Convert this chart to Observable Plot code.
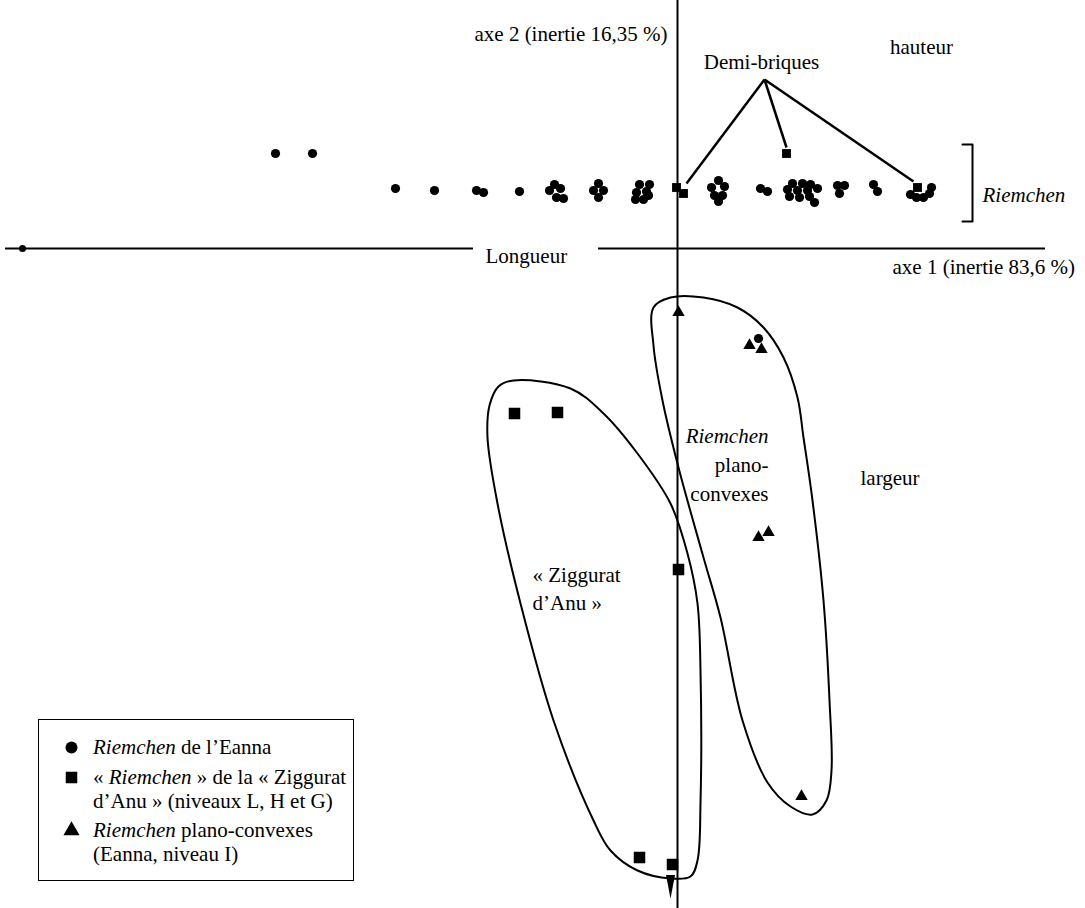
<!DOCTYPE html>
<html><head><meta charset="utf-8">
<script src="https://cdn.jsdelivr.net/npm/d3@7"></script>
<script src="https://cdn.jsdelivr.net/npm/@observablehq/plot@0.6"></script>
<style>
body{margin:0;background:#fff;}
#wrap{position:relative;width:1085px;height:908px;font-family:"Liberation Serif","Tinos","Times New Roman","DejaVu Serif",serif;color:#000;}
#legend{position:absolute;left:38px;top:719px;width:316px;height:162px;border:1.5px solid #000;box-sizing:border-box;font-size:21px;}
.row{position:absolute;left:0;white-space:nowrap;line-height:24px;}
.sym{position:absolute;left:22px;width:20px;text-align:center;}
.txt{position:absolute;left:54px;}
i{font-style:italic;}
svg text{font-family:"Liberation Serif","Tinos","Times New Roman","DejaVu Serif",serif;}
</style></head>
<body><div id="wrap"><div id="chart"></div>
<div id="legend">
  <div class="row" style="top:15px"><span class="sym" id="s1"></span><span class="txt"><i>Riemchen</i> de l’Eanna</span></div>
  <div class="row" style="top:45px"><span class="sym" id="s2"></span><span class="txt">« <i>Riemchen</i> » de la « Ziggurat</span></div>
  <div class="row" style="top:69px"><span class="txt">d’Anu » (niveaux L, H et G)</span></div>
  <div class="row" style="top:98px"><span class="sym" id="s3"></span><span class="txt"><i>Riemchen</i> plano-convexes</span></div>
  <div class="row" style="top:122px"><span class="txt">(Eanna, niveau I)</span></div>
</div></div>
<script>
// ---- data (factorial plane, axis 1 horizontal, axis 2 vertical) ----
const eanna = [
  [-4.02,0.95],[-3.65,0.95],[-2.82,0.60],[-2.43,0.58],[-2.01,0.58],[-1.94,0.56],[-1.58,0.57],
  [-1.23,0.64],[-1.28,0.58],[-1.17,0.60],[-1.21,0.51],[-1.14,0.50],
  [-0.79,0.65],[-0.84,0.58],[-0.74,0.58],[-0.79,0.51],
  [-0.38,0.64],[-0.28,0.64],[-0.41,0.56],[-0.31,0.57],[-0.42,0.49],[-0.34,0.49],[-0.29,0.53],
  [0.41,0.68],[0.34,0.61],[0.47,0.62],[0.37,0.53],[0.45,0.53],[0.41,0.47],
  [0.83,0.60],[0.90,0.57],
  [1.15,0.65],[1.25,0.65],[1.33,0.64],[1.10,0.59],[1.20,0.58],[1.30,0.58],[1.40,0.60],[1.12,0.52],[1.22,0.51],[1.32,0.52],[1.37,0.46],
  [1.60,0.63],[1.67,0.63],[1.62,0.55],
  [1.96,0.64],[2.00,0.57],
  [2.33,0.54],[2.39,0.51],[2.46,0.51],[2.52,0.55],[2.54,0.61],
  [0.81,-0.90]
];
const eannaAxisPoint = [[-6.55,0.00]];
const demiBriques = [[-0.01,0.61],[0.06,0.55],[1.09,0.95],[2.40,0.61]];
const ziggurat = [[-1.63,-1.65],[-1.20,-1.64],[0.01,-3.21],[-0.38,-6.09],[-0.05,-6.16]];
const planoConvexes = [[0.01,-0.64],[0.72,-0.97],[0.84,-1.01],[0.81,-2.89],[0.91,-2.84],[1.24,-5.48]];
const arrowTip = [[-0.07,-6.38]];

const leaderApex = [0.87,1.69];
const leaderEnds = [[0.09,0.65],[1.09,1.01],[2.36,0.67]];

const riemchenHull = [
  [-0.24,-0.59],[-0.07,-0.49],[0.26,-0.49],[0.60,-0.59],[0.86,-0.79],[1.06,-1.09],[1.20,-1.49],
  [1.26,-1.89],[1.35,-2.52],[1.46,-3.52],[1.52,-4.52],[1.54,-5.22],[1.49,-5.52],[1.35,-5.66],
  [1.13,-5.58],[0.90,-5.34],[0.65,-4.72],[0.43,-3.69],[0.26,-3.09],[0.01,-2.19],[-0.15,-1.52],[-0.24,-0.97]
];
const zigguratHull = [
  [-1.64,-1.32],[-1.07,-1.40],[-0.74,-1.65],[-0.40,-2.05],[-0.07,-2.55],[0.10,-3.05],[0.20,-3.55],
  [0.23,-4.22],[0.23,-5.55],[0.20,-6.12],[0.13,-6.28],[-0.07,-6.30],[-0.40,-6.22],[-0.67,-6.02],
  [-0.84,-5.72],[-1.24,-4.72],[-1.57,-3.55],[-1.80,-2.55],[-1.90,-1.89],[-1.88,-1.57],[-1.79,-1.38]
];
const bracket = [[2.85,1.04],[2.95,1.04],[2.95,0.27],[2.85,0.27]];
const axis1Segments = [[-6.72,-2.04],[-0.79,3.68]];
const axis2Extent = [2.48,-6.60];

const labelsStart = [
  {x:-1.92,y:-0.08,t:"Longueur"},
  {x:2.15,y:-0.19,t:"axe 1 (inertie 83,6 %)"},
  {x:-1.45,y:-3.27,t:"« Ziggurat"},
  {x:-1.45,y:-3.55,t:"d’Anu »"},
  {x:1.83,y:-2.30,t:"largeur"}
];
const labelsStartItalic = [{x:3.05,y:0.53,t:"Riemchen"}];
const labelsEnd = [
  {x:-0.10,y:2.14,t:"axe 2 (inertie 16,35 %)"},
  {x:0.91,y:-2.17,t:"plano-"},
  {x:0.91,y:-2.46,t:"convexes"}
];
const labelsEndItalic = [{x:0.91,y:-1.88,t:"Riemchen"}];
const labelsMiddle = [
  {x:0.84,y:1.86,t:"Demi-briques"},
  {x:2.44,y:2.01,t:"hauteur"}
];

// ---- chart ----
const FONT = "'Liberation Serif', 'Tinos', 'Times New Roman', 'DejaVu Serif', serif";
const arrowSymbol = {draw(ctx){ ctx.moveTo(-4.5,-11.5); ctx.lineTo(4.5,-11.5); ctx.lineTo(0,12); ctx.closePath(); }};
const txt = (data, anchor, italic) => Plot.text(data, {x:"x", y:"y", text:"t", textAnchor:anchor, fontSize:21, fontFamily:FONT, fontStyle: italic ? "italic" : "normal", fill:"#000"});

const chart = Plot.plot({
  width:1085, height:908, margin:0,
  x:{domain:[-6.77,4.08], axis:null},
  y:{domain:[-6.60,2.48], axis:null},
  style:{background:"#fff", fontFamily:FONT},
  marks:[
    Plot.ruleY(axis1Segments, {y:0, x1:d=>d[0], x2:d=>d[1], stroke:"#000", strokeWidth:2}),
    Plot.ruleX([0], {y1:axis2Extent[0], y2:axis2Extent[1], stroke:"#000", strokeWidth:2}),
    Plot.line(riemchenHull, {x:d=>d[0], y:d=>d[1], curve:"catmull-rom-closed", stroke:"#000", strokeWidth:2}),
    Plot.line(zigguratHull, {x:d=>d[0], y:d=>d[1], curve:"catmull-rom-closed", stroke:"#000", strokeWidth:2}),
    Plot.link(leaderEnds, {x1:leaderApex[0], y1:leaderApex[1], x2:d=>d[0], y2:d=>d[1], stroke:"#000", strokeWidth:2.5}),
    Plot.line(bracket, {x:d=>d[0], y:d=>d[1], stroke:"#000", strokeWidth:2}),
    Plot.dot(eanna, {x:d=>d[0], y:d=>d[1], r:4.6, fill:"#000"}),
    Plot.dot(eannaAxisPoint, {x:d=>d[0], y:d=>d[1], r:3.5, fill:"#000"}),
    Plot.dot(demiBriques, {x:d=>d[0], y:d=>d[1], symbol:"square", r:5, fill:"#000"}),
    Plot.dot(ziggurat, {x:d=>d[0], y:d=>d[1], symbol:"square", r:6.5, fill:"#000"}),
    Plot.dot(planoConvexes, {x:d=>d[0], y:d=>d[1], symbol:"triangle", r:4.6, fill:"#000"}),
    Plot.dot(arrowTip, {x:d=>d[0], y:d=>d[1], symbol:arrowSymbol, fill:"#000"}),
    txt(labelsStart, "start", false),
    txt(labelsStartItalic, "start", true),
    txt(labelsEnd, "end", false),
    txt(labelsEndItalic, "end", true),
    txt(labelsMiddle, "middle", false)
  ]
});
document.getElementById("chart").appendChild(chart);

// legend symbols drawn with small Plot charts
function legendSym(id, symbol, r){
  const s = Plot.plot({width:20,height:24,margin:0,x:{domain:[0,1],axis:null},y:{domain:[0,1],axis:null},
    marks:[Plot.dot([0.5],{x:0.5,y:0.5,symbol,r,fill:"#000"})]});
  s.style.display="block";
  document.getElementById(id).appendChild(s);
}
legendSym("s1","circle",6);
legendSym("s2","square",6.5);
legendSym("s3","triangle",6);
</script></body></html>
